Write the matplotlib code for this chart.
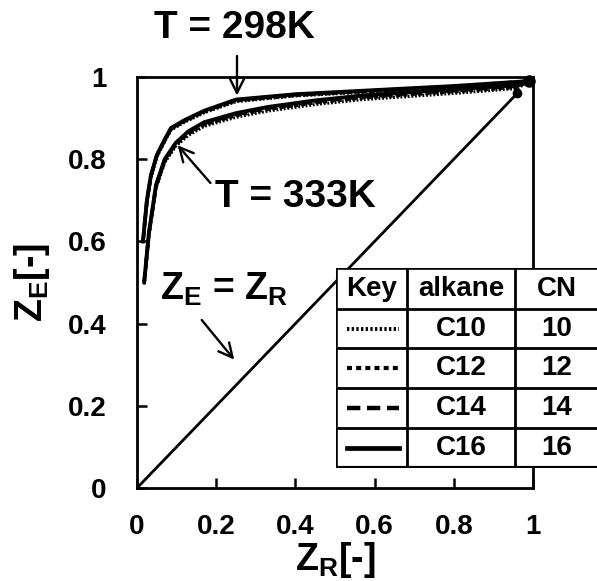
import matplotlib
matplotlib.use('Agg')
import matplotlib.pyplot as plt
from matplotlib.lines import Line2D
from matplotlib.patches import Rectangle

plt.rcParams['font.family'] = ['Liberation Sans', 'DejaVu Sans']
plt.rcParams['font.weight'] = 'bold'
plt.rcParams['axes.labelweight'] = 'bold'
plt.rcParams['mathtext.fontset'] = 'custom'
plt.rcParams['mathtext.rm'] = 'Liberation Sans:bold'
plt.rcParams['mathtext.it'] = 'Liberation Sans:bold'
plt.rcParams['mathtext.bf'] = 'Liberation Sans:bold'

# curves (ZR vs ZE)
zr_298 = [0.015, 0.025, 0.035, 0.05, 0.07, 0.086, 0.12, 0.17, 0.25, 0.4, 0.6, 0.8, 0.99]
ze_298_c10 = [0.595, 0.695, 0.755, 0.805, 0.843, 0.871, 0.890, 0.913, 0.940, 0.954, 0.964, 0.975, 0.99]
ze_298_c12 = [0.597, 0.697, 0.757, 0.807, 0.845, 0.873, 0.892, 0.915, 0.942, 0.955, 0.966, 0.976, 0.99]
ze_298_c14 = [0.599, 0.699, 0.759, 0.809, 0.847, 0.875, 0.894, 0.917, 0.944, 0.957, 0.967, 0.977, 0.99]
ze_298_c16 = [0.600, 0.700, 0.760, 0.810, 0.848, 0.876, 0.895, 0.918, 0.945, 0.958, 0.968, 0.978, 0.99]

zr_333 = [0.018, 0.03, 0.048, 0.07, 0.098, 0.13, 0.17, 0.25, 0.33, 0.45, 0.57, 0.8, 0.96, 0.99]
ze_333_c10 = [0.495, 0.615, 0.730, 0.792, 0.832, 0.858, 0.880, 0.902, 0.917, 0.933, 0.945, 0.960, 0.972, 0.99]
ze_333_c12 = [0.497, 0.617, 0.732, 0.795, 0.835, 0.862, 0.884, 0.906, 0.921, 0.937, 0.949, 0.964, 0.975, 0.99]
ze_333_c14 = [0.499, 0.619, 0.735, 0.798, 0.838, 0.865, 0.887, 0.909, 0.924, 0.940, 0.952, 0.967, 0.978, 0.99]
ze_333_c16 = [0.500, 0.620, 0.737, 0.800, 0.840, 0.868, 0.890, 0.912, 0.927, 0.943, 0.955, 0.970, 0.980, 0.99]

diag = [0, 0.96]

alkanes = ['C10', 'C12', 'C14', 'C16']
carbon_numbers = ['10', '12', '14', '16']
styles = [(0, (0.6, 0.6)), (0, (1.2, 1.0)), (0, (3, 1.5)), '-']
widths = [2.2, 2.4, 2.6, 2.8]

fig = plt.figure(figsize=(5.97, 5.81), dpi=100)
ax = fig.add_axes([137 / 597, 93 / 581, 396 / 597, 411 / 581])

for ys, ls, lw in zip([ze_298_c10, ze_298_c12, ze_298_c14, ze_298_c16], styles, widths):
    ax.plot(zr_298, ys, color='black', linestyle=ls, linewidth=lw, solid_capstyle='butt')
for ys, ls, lw in zip([ze_333_c10, ze_333_c12, ze_333_c14, ze_333_c16], styles, widths):
    ax.plot(zr_333, ys, color='black', linestyle=ls, linewidth=lw, solid_capstyle='butt')

ax.plot([zr_298[-1]], [ze_298_c16[-1]], 'o', color='black', markersize=8, clip_on=False)
ax.plot(diag, diag, color='black', linewidth=2)
ax.plot([diag[-1]], [diag[-1]], 'o', color='black', markersize=6)

ax.set_xlim(0, 1)
ax.set_ylim(0, 1)
ax.set_xticks([0, 0.2, 0.4, 0.6, 0.8, 1])
ax.set_xticklabels(['0', '0.2', '0.4', '0.6', '0.8', '1'])
ax.set_yticks([0, 0.2, 0.4, 0.6, 0.8, 1])
ax.set_yticklabels(['0', '0.2', '0.4', '0.6', '0.8', '1'])
ax.tick_params(direction='in', length=7, width=1.8, labelsize=20)
ax.tick_params(axis='x', pad=19)
ax.tick_params(axis='y', pad=22)
for s in ax.spines.values():
    s.set_linewidth(2)

ax.set_xlabel('Z$_\\mathrm{R}$[-]', fontsize=27, fontweight='bold', labelpad=0)
ax.set_ylabel('Z$_\\mathrm{E}$[-]', fontsize=27, fontweight='bold', labelpad=11)

arrow = dict(arrowstyle='->,head_length=1.0,head_width=0.5', color='black', lw=1.7)
ax.annotate('', xy=(0.2525, 0.948), xytext=(0.2525, 1.058), arrowprops=arrow, annotation_clip=False)
ax.text(0.245, 1.095, 'T = 298K', fontsize=28, ha='center', va='baseline', clip_on=False)
ax.annotate('', xy=(0.098, 0.839), xytext=(0.19, 0.737), arrowprops=arrow)
ax.text(0.197, 0.684, 'T = 333K', fontsize=28, ha='left', va='baseline')
ax.annotate('', xy=(0.25, 0.307), xytext=(0.159, 0.414), arrowprops=arrow)
ax.text(0.058, 0.457, 'Z$_\\mathrm{E}$ = Z$_\\mathrm{R}$', fontsize=27, ha='left', va='baseline')

# table drawn in pixel-like coords
tab = fig.add_axes([336 / 597, 113 / 581, 264 / 597, 200 / 581])
tab.set_xlim(336, 600)
tab.set_ylim(468, 268)
tab.axis('off')
tab.add_patch(Rectangle((336, 268), 264, 200, facecolor='white', edgecolor='black', linewidth=2.6))
cols = [336, 407, 515, 600]
rows = [268, 309, 348, 388, 428, 468]
for c in cols[1:-1]:
    tab.plot([c, c], [268, 468], color='black', lw=2)
for r in rows[1:-1]:
    tab.plot([336, 600], [r, r], color='black', lw=2)
tab.plot([336, 600], [468, 468], color='black', lw=3)

mid = lambda i: (rows[i] + rows[i + 1]) / 2
tab.text(371.5, mid(0), 'Key', fontsize=20, ha='center', va='center')
tab.text(461, mid(0), 'alkane', fontsize=20, ha='center', va='center')
tab.text(557, mid(0), 'CN', fontsize=20, ha='center', va='center')
for i in range(4):
    y = mid(i + 1)
    tab.add_line(Line2D([347, 399], [y, y], color='black', linestyle=styles[i], linewidth=widths[i] + 0.6))
    tab.text(461, y, alkanes[i], fontsize=20, ha='center', va='center')
    tab.text(557, y, carbon_numbers[i], fontsize=20, ha='center', va='center')

fig.savefig('out.png', dpi=100)
